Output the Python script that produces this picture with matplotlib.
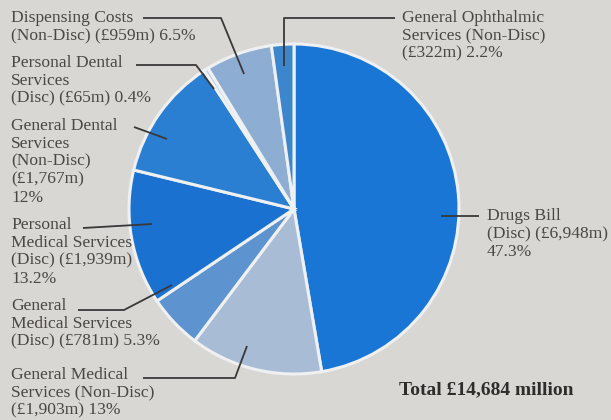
import matplotlib
matplotlib.use("Agg")
import matplotlib.pyplot as plt

W, H = 611, 420

labels = [
    "Drugs Bill\n(Disc) (£6,948m)\n47.3%",
    "General Medical\nServices (Non-Disc)\n(£1,903m) 13%",
    "General\nMedical Services\n(Disc) (£781m) 5.3%",
    "Personal\nMedical Services\n(Disc) (£1,939m)\n13.2%",
    "General Dental\nServices\n(Non-Disc)\n(£1,767m)\n12%",
    "Personal Dental\nServices\n(Disc) (£65m) 0.4%",
    "Dispensing Costs\n(Non-Disc) (£959m) 6.5%",
    "General Ophthalmic\nServices (Non-Disc)\n(£322m) 2.2%",
]
values = [6948, 1903, 781, 1939, 1767, 65, 959, 322]
colors = ["#1976d4", "#a8bcd6", "#5d93cf", "#1a71d0", "#2a7fd2",
          "#c2cfdf", "#8eadd3", "#3b86cd"]
total_label = "Total £14,684 million"

bg = "#d9d7d4"
ink = "#4a4746"

fig = plt.figure(figsize=(W / 100, H / 100), dpi=100, facecolor=bg)
ax = fig.add_axes([0, 0, 1, 1])


def P(x, y):
    return (x, H - y)


cx, cy, r = 294, 209, 165
ax.pie(values, colors=colors, startangle=90, counterclock=False,
       center=P(cx, cy), radius=r, frame=True,
       wedgeprops=dict(edgecolor="#eef0f2", linewidth=2.2))
ax.set_xlim(0, W)
ax.set_ylim(0, H)
ax.set_aspect("equal")
ax.axis("off")

font = dict(family="Liberation Serif", fontsize=12.6, color=ink,
            linespacing=1.16, va="top", ha="left")

# label text anchors (left edge, top of first line, pixels)
text_pos = [
    (487, 208), (11, 367), (11, 298), (11, 217),
    (11, 118), (11, 55), (11, 10), (402, 10),
]
for lab, (x, y) in zip(labels, text_pos):
    ax.text(*P(x, y), lab, **font)

# leader lines
leaders = [
    [(441, 216), (479, 216)],
    [(143, 378), (235, 378), (247, 346)],
    [(78, 310), (124, 310), (172, 285)],
    [(83, 228), (152, 224)],
    [(134, 127), (167, 139)],
    [(136, 65), (196, 65), (214, 89)],
    [(143, 18), (221, 18), (244, 74)],
    [(395, 18), (284, 18), (284, 66)],
]
for pts in leaders:
    xs = [p[0] for p in pts]
    ys = [H - p[1] for p in pts]
    ax.plot(xs, ys, color="#3a3838", lw=1.3, solid_capstyle="butt")

ax.text(*P(399, 390), total_label, family="Liberation Serif",
        fontsize=14, fontweight="bold", color="#2f2c2c",
        ha="left", va="center")

fig.savefig("out.png", dpi=100, facecolor=bg)
